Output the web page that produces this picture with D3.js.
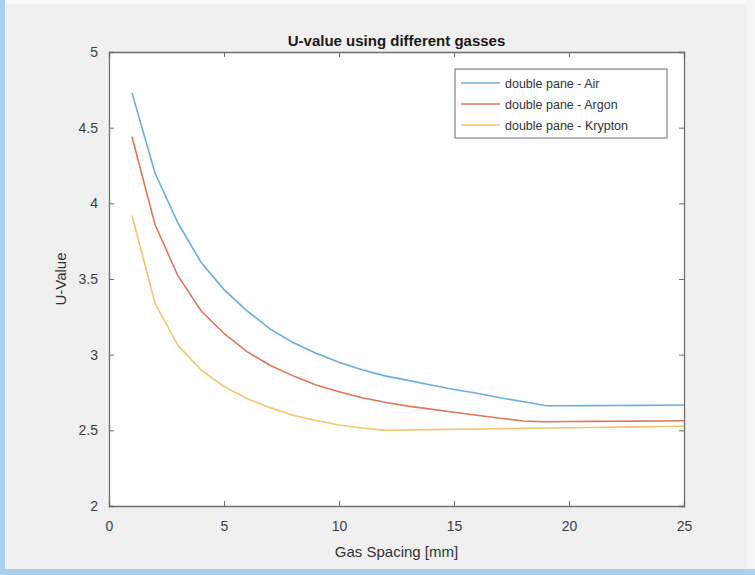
<!DOCTYPE html>
<html><head><meta charset="utf-8">
<script src="https://cdn.jsdelivr.net/npm/d3@7"></script>
<style>body{margin:0;background:#fff;}svg{display:block;font-family:"Liberation Sans",Arial,sans-serif;}</style>
</head><body>
<svg id="c" width="755" height="575"></svg>
<script>
const gasSpacing = [1,2,3,4,5,6,7,8,9,10,11,12,13,14,15,16,17,18,19,20,21,22,23,24,25];
const airValues = [4.73,4.20,3.87,3.61,3.43,3.29,3.17,3.08,3.01,2.95,2.90,2.86,2.83,2.80,2.77,2.745,2.715,2.69,2.662,2.662,2.663,2.664,2.665,2.666,2.667];
const argonValues = [4.44,3.86,3.52,3.29,3.14,3.02,2.93,2.86,2.80,2.755,2.715,2.685,2.66,2.64,2.62,2.60,2.58,2.562,2.557,2.558,2.559,2.56,2.561,2.562,2.563];
const kryptonValues = [3.92,3.34,3.06,2.90,2.79,2.71,2.65,2.60,2.565,2.535,2.515,2.50,2.502,2.505,2.507,2.509,2.511,2.513,2.515,2.517,2.519,2.521,2.523,2.525,2.527];
const seriesNames = ["double pane - Air","double pane - Argon","double pane - Krypton"];
const seriesColors = ["#6aaedb","#e0775a","#f1c66f"];
const xTicks = [0,5,10,15,20,25];
const yTicks = [2,2.5,3,3.5,4,4.5,5];

const svg = d3.select("#c");
svg.append("rect").attr("width",755).attr("height",575).attr("fill","#f0f0f0");
svg.append("rect").attr("x",0).attr("y",0).attr("width",755).attr("height",4).attr("fill","#fafafa");
svg.append("rect").attr("x",0).attr("y",0).attr("width",5).attr("height",575).attr("fill","#a9d0ec");
svg.append("rect").attr("x",0).attr("y",569).attr("width",755).attr("height",6).attr("fill","#a9d0ec");
svg.append("rect").attr("x",747).attr("y",0).attr("width",8).attr("height",569).attr("fill","#f6f6f6");

const L=109,R=684,T=52,B=506;
const x = d3.scaleLinear().domain([0,25]).range([L,R]);
const y = d3.scaleLinear().domain([2,5]).range([B,T]);

svg.append("rect").attr("x",L).attr("y",T).attr("width",R-L).attr("height",B-T).attr("fill","#ffffff");

const axCol="#6e6e6e";
const gx = svg.append("g").attr("transform",`translate(0,${B})`)
  .call(d3.axisBottom(x).tickValues(xTicks).tickSize(-5).tickPadding(15).tickFormat(d3.format("d")));
const gxt = svg.append("g").attr("transform",`translate(0,${T})`)
  .call(d3.axisTop(x).tickValues(xTicks).tickSize(-5).tickFormat(""));
const gy = svg.append("g").attr("transform",`translate(${L},0)`)
  .call(d3.axisLeft(y).tickValues(yTicks).tickSize(-5).tickPadding(11).tickFormat(d=>String(d)));
const gyr = svg.append("g").attr("transform",`translate(${R},0)`)
  .call(d3.axisRight(y).tickValues(yTicks).tickSize(-5).tickFormat(""));
[gx,gxt,gy,gyr].forEach(g=>{
  g.selectAll("path").attr("stroke",axCol).attr("stroke-width",1.3);
  g.selectAll("line").attr("stroke",axCol).attr("stroke-width",1);
  g.selectAll("text").attr("fill","#404040").attr("font-size",14).attr("font-family","Liberation Sans, Arial, sans-serif");
});

const line = d3.line().x((d,i)=>x(gasSpacing[i])).y(d=>y(d));
[airValues,argonValues,kryptonValues].forEach((vals,i)=>{
  svg.append("path").datum(vals).attr("d",line).attr("fill","none")
    .attr("stroke",seriesColors[i]).attr("stroke-width",1.6);
});

svg.append("text").attr("x",(L+R)/2).attr("y",46).attr("text-anchor","middle")
  .attr("font-size",15).attr("font-weight","bold").attr("fill","#1a1a1a").text("U-value using different gasses");
svg.append("text").attr("x",(L+R)/2).attr("y",557).attr("text-anchor","middle")
  .attr("font-size",15).attr("fill","#333").text("Gas Spacing [mm]");
svg.append("text").attr("transform",`translate(66,${(T+B)/2}) rotate(-90)`).attr("text-anchor","middle")
  .attr("font-size",15).attr("fill","#333").text("U-Value");

const lg = svg.append("g");
lg.append("rect").attr("x",455).attr("y",69).attr("width",212).attr("height",69)
  .attr("fill","#fff").attr("stroke","#6e6e6e").attr("stroke-width",1);
seriesNames.forEach((n,i)=>{
  const yy = 83 + i*21;
  lg.append("line").attr("x1",461).attr("x2",500).attr("y1",yy).attr("y2",yy)
    .attr("stroke",seriesColors[i]).attr("stroke-width",1.6);
  lg.append("text").attr("x",505).attr("y",yy+4.5).attr("font-size",12.5).attr("fill","#333").text(n);
});
</script>
</body></html>
